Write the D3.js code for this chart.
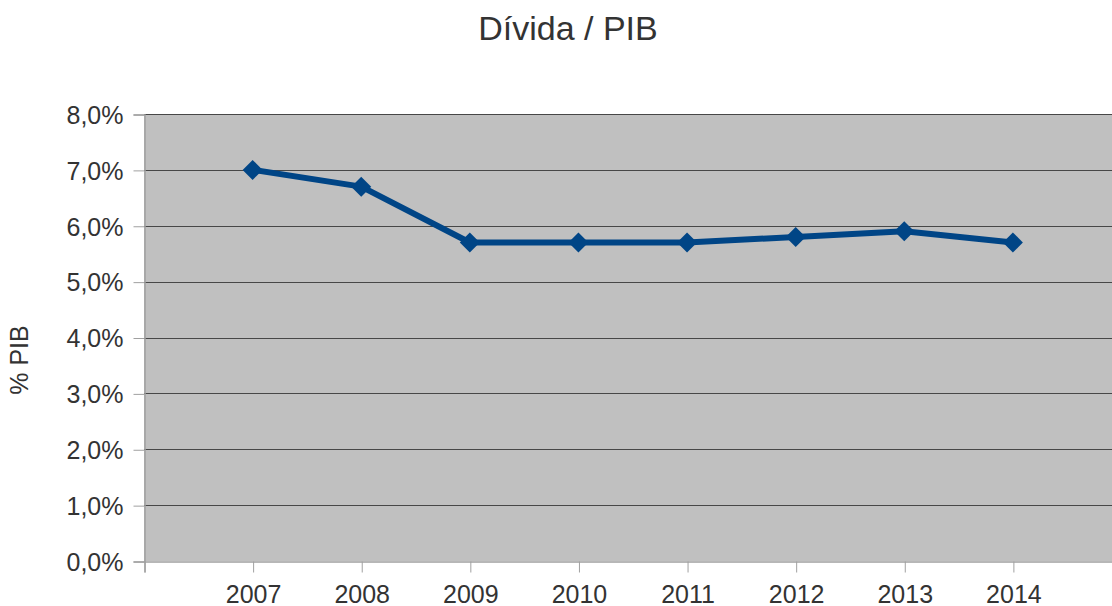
<!DOCTYPE html>
<html>
<head>
<meta charset="utf-8">
<script src="https://cdn.jsdelivr.net/npm/d3@7"></script>
<style>
    body { margin: 0; background: #ffffff; }
    svg { display: block; font-family: "Liberation Sans", Arial, sans-serif; }
</style>
</head>
<body>
<div id="chart"></div>
<script>
var years = ['2007', '2008', '2009', '2010', '2011', '2012', '2013', '2014'];
var divida = [7.0, 6.7, 5.7, 5.7, 5.7, 5.8, 5.9, 5.7];
var yTicks = [0, 1, 2, 3, 4, 5, 6, 7, 8];

var width = 1112, height = 606;
var plot = { left: 144, top: 114, right: 1121.5, bottom: 561 };

var svg = d3.select('#chart').append('svg')
    .attr('width', width)
    .attr('height', height);

// categories sit on slots 1..8, slot 0 is the left edge of the plot
var x = d3.scaleLinear().domain([0, years.length + 1]).range([plot.left, plot.right]);
var y = d3.scaleLinear().domain([0, 8]).range([plot.bottom, plot.top]);

svg.append('rect')
    .attr('x', plot.left)
    .attr('y', plot.top)
    .attr('width', plot.right - plot.left)
    .attr('height', plot.bottom - plot.top)
    .style('fill', '#c0c0c0');

// gridlines
svg.append('g').selectAll('line')
    .data(yTicks.slice(1))
    .enter().append('line')
    .attr('x1', plot.left)
    .attr('x2', plot.right)
    .attr('y1', function (d) { return Math.round(y(d)) + 0.5; })
    .attr('y2', function (d) { return Math.round(y(d)) + 0.5; })
    .style('stroke', '#474747')
    .style('stroke-width', 1);

// y axis
var yAxis = d3.axisLeft(y)
    .tickValues(yTicks)
    .tickSize(11)
    .tickPadding(10)
    .tickFormat(function (d) { return d3.format('.1f')(d).replace('.', ',') + '%'; });
var gy = svg.append('g')
    .attr('transform', 'translate(' + (plot.left + 0.5) + ',0.5)')
    .call(yAxis);

// x axis
var xAxis = d3.axisBottom(x)
    .tickValues(d3.range(0, years.length + 1))
    .tickSize(11)
    .tickPadding(13)
    .tickFormat(function (d) { return d === 0 ? '' : years[d - 1]; });
var gx = svg.append('g')
    .attr('transform', 'translate(0.5,' + (plot.bottom + 0.5) + ')')
    .call(xAxis);

[gx, gy].forEach(function (g) {
    g.select('.domain').style('stroke', '#a0a0a0').style('stroke-width', 1.5);
    g.selectAll('.tick line').style('stroke', '#a0a0a0');
    g.selectAll('.tick text')
        .style('font-family', '"Liberation Sans", Arial, sans-serif')
        .style('font-size', '25px')
        .style('fill', '#333333');
});
gy.selectAll('.tick text').attr('dy', '0.35em');
gx.selectAll('.tick text').attr('dy', '0.68em');

// line
var line = d3.line()
    .x(function (d, i) { return x(i + 1); })
    .y(function (d) { return y(d); });

svg.append('path')
    .datum(divida)
    .attr('d', line)
    .style('fill', 'none')
    .style('stroke', '#004586')
    .style('stroke-width', 6)
    .style('stroke-linejoin', 'round');

svg.append('g').selectAll('path')
    .data(divida)
    .enter().append('path')
    .attr('transform', function (d, i) { return 'translate(' + x(i + 1) + ',' + y(d) + ')'; })
    .attr('d', 'M0,-10L10,0L0,10L-10,0Z')
    .style('fill', '#004586');

// titles
svg.append('text')
    .attr('x', 568)
    .attr('y', 40)
    .attr('text-anchor', 'middle')
    .style('font-size', '34px')
    .style('fill', '#333333')
    .text('Dívida / PIB');

svg.append('text')
    .attr('transform', 'translate(28,360) rotate(-90)')
    .attr('text-anchor', 'middle')
    .style('font-size', '25px')
    .style('fill', '#333333')
    .text('% PIB');
</script>
</body>
</html>
